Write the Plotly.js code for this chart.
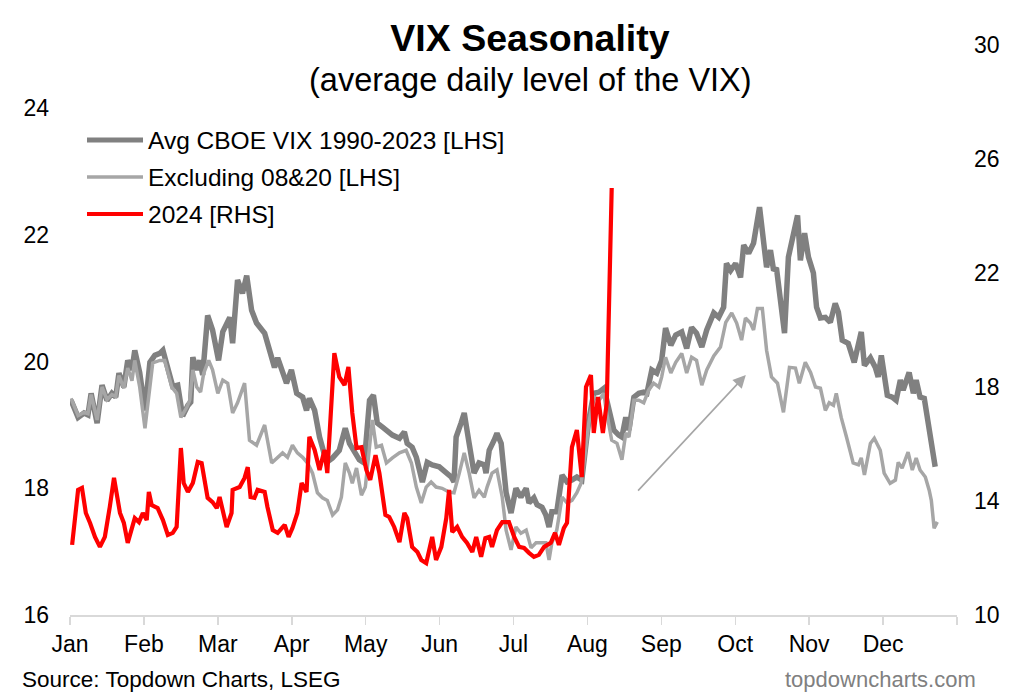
<!DOCTYPE html>
<html>
<head>
<meta charset="utf-8">
<script src="https://cdn.plot.ly/plotly-3.0.1.min.js"></script>
<style>html,body{margin:0;padding:0;background:#fff;}#chart{width:1024px;height:698px;}</style>
</head>
<body>
<div id="chart"></div>
<script>
// Trading-day index (0..252) across the seasonal year
const months = ["Jan","Feb","Mar","Apr","May","Jun","Jul","Aug","Sep","Oct","Nov","Dec",""];
const monthStarts = [0,21,42,63,84,105,126,147,168,189,210,231,252];

const avgDays = [0.3,2.3,4.0,5.1,6.0,7.7,9.1,10.5,11.9,13.0,13.9,15.3,16.4,17.6,18.4,19.8,21.3,22.7,24.1,25.5,26.4,27.8,29.2,30.6,32.0,33.5,34.3,34.9,36.0,36.9,37.7,39.1,40.5,42.2,43.4,45.4,46.2,47.6,49.0,50.2,51.6,53.0,55.3,58.1,59.0,61.5,62.9,64.4,66.1,67.2,68.0,69.5,70.9,72.9,74.6,76.5,78.2,79.4,80.8,82.2,83.6,85.1,86.2,87.3,88.7,89.9,91.6,93.6,95.0,95.8,97.2,98.4,100.1,101.5,102.9,104.9,106.9,108.3,109.1,109.7,111.1,112.0,113.4,114.8,116.2,117.7,118.2,119.1,120.5,121.3,122.5,123.9,125.3,126.7,128.1,129.6,130.4,131.8,132.7,134.1,135.2,136.1,136.9,138.3,139.8,141.2,142.6,144.0,145.4,147.4,148.8,150.3,151.7,152.5,154.5,155.9,156.8,157.9,158.8,160.2,161.6,163.0,163.9,165.3,166.7,168.1,169.2,170.7,172.1,173.8,175.2,176.6,178.0,179.5,180.9,182.9,184.3,185.7,186.5,187.7,189.1,190.5,191.4,192.8,194.2,195.9,197.0,197.9,199.0,199.9,200.7,201.8,203.0,204.1,205.5,206.7,207.5,208.7,209.8,211.2,212.1,213.2,214.6,216.0,217.4,218.3,219.4,221.1,222.8,224.8,225.7,227.4,228.8,229.6,230.5,232.2,233.6,234.7,235.9,236.7,238.4,239.6,240.4,241.5,242.7,243.8,244.7,245.8];
const avgVix = [19.39,19.12,19.19,19.16,19.50,19.03,19.63,19.39,19.50,19.44,19.82,19.60,20.02,19.87,20.18,19.83,19.23,19.99,20.10,20.13,20.18,19.90,19.61,19.63,19.14,19.31,19.36,20.07,19.87,20.02,19.79,20.73,20.50,20.02,20.47,20.70,20.29,21.29,21.08,21.36,20.81,20.61,20.45,19.91,20.06,19.66,19.87,19.50,19.44,19.23,19.42,19.23,18.81,18.41,18.48,18.60,18.95,18.71,18.56,18.45,18.40,19.39,19.47,19.03,18.97,18.92,18.84,18.79,18.89,18.71,18.65,18.49,18.10,18.41,18.37,18.34,18.24,18.18,18.10,18.81,19.03,19.19,18.71,18.24,18.40,18.37,18.24,18.60,18.76,18.87,18.71,17.93,17.61,18.00,17.86,18.00,17.77,17.85,17.74,17.70,17.58,17.39,17.63,17.63,18.21,18.10,18.13,18.18,18.13,19.08,19.50,19.52,19.58,19.39,18.92,18.84,18.81,19.12,18.92,19.44,19.50,19.52,19.50,19.87,19.82,20.02,20.53,20.26,20.42,20.47,20.21,20.54,20.45,20.23,20.50,20.77,20.70,20.86,21.55,21.44,21.55,21.33,21.84,21.71,21.87,22.44,21.92,21.49,21.76,21.44,21.48,20.97,20.45,21.65,22.03,22.31,21.60,22.03,21.65,21.40,20.86,20.69,20.70,20.62,20.92,20.78,20.34,20.29,19.99,20.47,19.94,20.06,19.91,19.76,20.10,19.47,19.44,19.39,19.71,19.55,19.83,19.50,19.71,19.44,19.42,19.08,18.76,18.34];

const exDays = [0.3,2.3,4.0,5.1,6.0,7.7,9.1,10.5,11.9,13.0,13.9,15.3,16.4,17.6,18.4,19.8,21.3,22.7,23.5,25.5,26.9,28.9,30.3,31.5,33.2,34.0,34.9,36.0,37.1,38.0,39.4,40.5,42.0,43.4,44.8,46.2,47.6,49.6,51.0,53.0,55.3,57.3,59.0,60.4,61.8,63.2,64.6,66.1,67.5,68.9,70.3,71.7,73.1,74.6,76.0,77.1,78.2,79.4,80.2,81.4,82.8,83.9,85.9,87.0,88.5,89.9,91.6,93.6,95.5,97.0,98.4,99.8,101.2,102.6,104.0,105.7,107.7,109.1,110.6,112.0,113.4,114.8,116.2,117.7,118.5,119.9,121.3,122.8,123.9,125.3,126.7,128.1,129.6,131.0,132.4,133.8,135.2,136.1,136.9,138.3,139.8,141.2,142.6,144.0,145.2,146.0,147.4,148.8,150.3,151.7,152.2,153.9,155.4,156.8,157.9,158.8,160.2,161.6,163.0,164.4,165.8,167.3,168.1,169.2,170.7,172.1,173.8,175.2,176.6,178.0,179.5,180.9,182.9,184.8,186.3,188.0,189.4,190.8,191.9,193.3,194.2,195.3,196.7,197.9,199.3,201.0,202.7,204.4,206.1,207.2,208.9,210.4,211.8,213.2,214.6,215.7,216.9,217.7,219.1,220.6,222.5,224.0,224.8,225.7,227.4,228.5,230.2,231.3,233.0,234.5,235.3,236.4,238.1,239.3,240.4,241.5,243.0,244.1,244.7,245.5,246.4];
const exVix = [19.42,19.15,19.20,19.18,19.48,19.08,19.60,19.40,19.48,19.45,19.78,19.58,19.90,19.70,20.02,19.60,18.95,19.55,19.98,20.02,20.02,19.60,19.50,19.12,19.28,19.39,19.87,19.60,19.52,19.82,20.02,19.87,19.50,19.71,19.66,19.19,19.35,19.66,18.76,18.68,19.00,18.40,18.48,18.56,18.49,18.68,18.56,18.49,18.40,18.24,17.93,17.85,17.81,17.58,17.66,17.86,18.40,18.24,18.08,18.32,17.89,18.02,19.08,18.65,18.68,18.40,18.48,18.56,18.60,18.40,18.02,17.77,18.02,18.10,18.02,18.00,17.94,17.93,18.24,18.56,18.24,17.85,17.97,17.86,18.02,18.24,18.29,17.86,17.34,17.03,17.39,17.29,17.34,17.06,17.14,17.14,17.14,16.87,17.14,17.34,17.86,17.77,17.81,17.93,18.08,18.40,19.03,19.44,19.39,19.50,19.28,18.76,18.71,18.45,18.87,18.81,19.39,19.39,19.35,19.55,19.66,19.60,19.76,20.07,19.82,19.99,20.13,19.82,20.07,20.02,19.63,19.87,20.09,20.23,20.62,20.77,20.61,20.34,20.69,20.61,20.50,20.84,20.84,20.18,19.76,19.66,19.20,19.91,19.90,19.66,19.99,19.83,19.60,19.58,19.23,19.35,19.31,19.50,19.12,18.81,18.40,18.37,18.48,18.21,18.71,18.79,18.60,18.24,18.08,18.13,18.41,18.32,18.57,18.29,18.48,18.29,18.18,17.97,17.81,17.37,17.47];

const days2024 = [0.6,2.3,3.4,4.5,5.7,7.1,8.5,9.9,11.3,12.5,14.2,15.3,16.4,18.4,19.6,20.7,21.8,22.4,23.2,24.9,26.4,27.8,29.2,30.3,31.5,32.3,33.5,34.9,36.3,37.4,39.1,40.5,41.7,42.5,44.5,45.9,46.2,48.2,49.6,50.5,51.3,52.4,53.3,55.3,56.1,57.6,59.0,61.0,62.1,63.2,64.6,65.8,67.2,68.0,69.5,70.9,72.3,73.1,75.1,76.5,78.0,79.1,80.2,81.4,82.8,84.2,85.3,86.8,87.9,89.6,90.7,92.1,93.6,95.0,95.8,97.2,98.7,99.8,101.2,101.8,102.9,104.0,105.5,106.9,107.7,108.6,110.0,111.4,112.8,114.3,115.4,116.8,118.0,119.1,119.9,121.3,122.8,124.7,126.2,127.6,129.0,130.4,131.8,133.2,134.7,136.6,137.8,138.9,140.3,141.2,142.6,144.0,144.6,145.4,146.6,148.0,148.8,150.0,151.4,152.5,153.9];
const vix2024 = [12.46,14.39,14.46,13.58,13.23,12.74,12.39,12.74,13.79,14.81,13.58,13.23,12.53,13.40,13.26,13.58,13.33,14.32,13.86,13.75,13.33,12.81,12.88,13.09,15.86,14.63,14.32,14.63,15.37,15.33,14.11,13.96,13.75,14.14,13.09,13.58,14.39,14.49,14.81,15.19,14.14,14.11,14.39,14.32,13.79,12.98,12.88,13.16,12.74,13.05,13.58,14.63,14.32,16.25,15.79,15.09,15.79,14.98,19.19,18.35,18.07,18.70,17.09,15.86,15.89,15.09,14.74,15.61,14.98,13.51,13.44,13.09,12.56,13.58,13.40,12.39,12.21,11.93,11.82,12.18,12.74,11.93,12.39,13.40,14.39,12.91,13.09,12.74,12.53,12.21,12.74,12.04,12.70,12.74,12.39,12.98,13.26,13.26,12.74,12.39,12.35,12.18,12.04,12.11,12.39,12.53,12.88,12.46,13.05,13.23,15.89,16.49,15.89,14.84,18.00,18.42,16.39,17.65,16.39,17.44,24.98];

const seriesNames = ["Avg CBOE VIX 1990-2023 [LHS]","Excluding 08&20 [LHS]","2024 [RHS]"];
const seriesColors = ["#808080","#a6a6a6","#ff0000"];
const seriesWidths = [5.5,3.5,4.2];

// arrow (trading day, LHS level)
const arrowFrom = [161, 17.94];
const arrowTo = [192, 19.79];

const FONT = "Liberation Sans, Arial, sans-serif";

const traces = [
  {x: avgDays, y: avgVix, name: seriesNames[0], type: "scatter", mode: "lines",
   line: {color: seriesColors[0], width: seriesWidths[0]}, yaxis: "y"},
  {x: exDays, y: exVix, name: seriesNames[1], type: "scatter", mode: "lines",
   line: {color: seriesColors[1], width: seriesWidths[1]}, yaxis: "y"},
  {x: days2024, y: vix2024, name: seriesNames[2], type: "scatter", mode: "lines",
   line: {color: seriesColors[2], width: seriesWidths[2]}, yaxis: "y2"}
];

// manual legend (long line samples like the original)
const W = 1024 - 70 - 67, H = 698 - 45 - 83;
const px = v => (v - 70) / W;
const py = v => (615 - v) / H;
const legendRows = [140, 177, 214];
const shapes = [], annotations = [];
legendRows.forEach((r, i) => {
  shapes.push({type: "line", xref: "paper", yref: "paper", x0: px(87), x1: px(143), y0: py(r), y1: py(r),
    line: {color: seriesColors[i], width: seriesWidths[i] - (i === 0 ? 0.5 : 0)}});
  annotations.push({xref: "paper", yref: "paper", x: px(146), y: py(r), xanchor: "left", yanchor: "middle",
    text: seriesNames[i].replace("&", "&amp;"), showarrow: false, font: {family: FONT, size: 24.5, color: "#000"}});
});

annotations.push({xref: "paper", yref: "paper", x: px(530), y: py(80), xanchor: "center", yanchor: "middle",
  text: "(average daily level of the VIX)", showarrow: false, font: {family: FONT, size: 32.5, color: "#000"}});
annotations.push({xref: "paper", yref: "paper", x: px(20), y: py(679), xanchor: "left", yanchor: "middle",
  text: "Source: Topdown Charts, LSEG", showarrow: false, font: {family: FONT, size: 22.5, color: "#000"}});
annotations.push({xref: "paper", yref: "paper", x: px(978), y: py(679), xanchor: "right", yanchor: "middle",
  text: "topdowncharts.com", showarrow: false, font: {family: FONT, size: 22, color: "#808080"}});
annotations.push({x: arrowTo[0], y: arrowTo[1], xref: "x", yref: "y", ax: arrowFrom[0], ay: arrowFrom[1],
  axref: "x", ayref: "y", showarrow: true, arrowhead: 2, arrowsize: 1.6, arrowwidth: 1.6,
  arrowcolor: "#a6a6a6", text: ""});

const layout = {
  width: 1024, height: 698,
  margin: {l: 70, r: 67, t: 45, b: 83},
  paper_bgcolor: "#fff", plot_bgcolor: "#fff",
  showlegend: false,
  font: {family: FONT, size: 23, color: "#000"},
  title: {text: "<b>VIX Seasonality</b>", x: 530 / 1024, xanchor: "center", xref: "container",
          y: 1 - 38 / 698, yanchor: "middle", yref: "container",
          font: {family: FONT, size: 37.5, color: "#000"}},
  xaxis: {range: [0, 252], tickmode: "array", tickvals: monthStarts, ticktext: months,
          showline: true, linecolor: "#d9d9d9", linewidth: 1.5, ticks: "outside", ticklen: 8,
          tickcolor: "#d9d9d9", tickwidth: 1.5, showgrid: false, zeroline: false,
          tickfont: {family: FONT, size: 23, color: "#000"}, fixedrange: true},
  yaxis: {range: [16, 25], tickvals: [16, 18, 20, 22, 24], showgrid: false, zeroline: false,
          showline: false, ticks: "", ticklabelstandoff: 20,
          tickfont: {family: FONT, size: 23, color: "#000"}},
  yaxis2: {range: [10, 30], tickvals: [10, 14, 18, 22, 26, 30], overlaying: "y", side: "right",
           showgrid: false, zeroline: false, showline: false, ticks: "", ticklabelstandoff: 16,
           tickfont: {family: FONT, size: 23, color: "#000"}},
  shapes: shapes,
  annotations: annotations
};

Plotly.newPlot("chart", traces, layout, {displayModeBar: false, staticPlot: true});
</script>
</body>
</html>
